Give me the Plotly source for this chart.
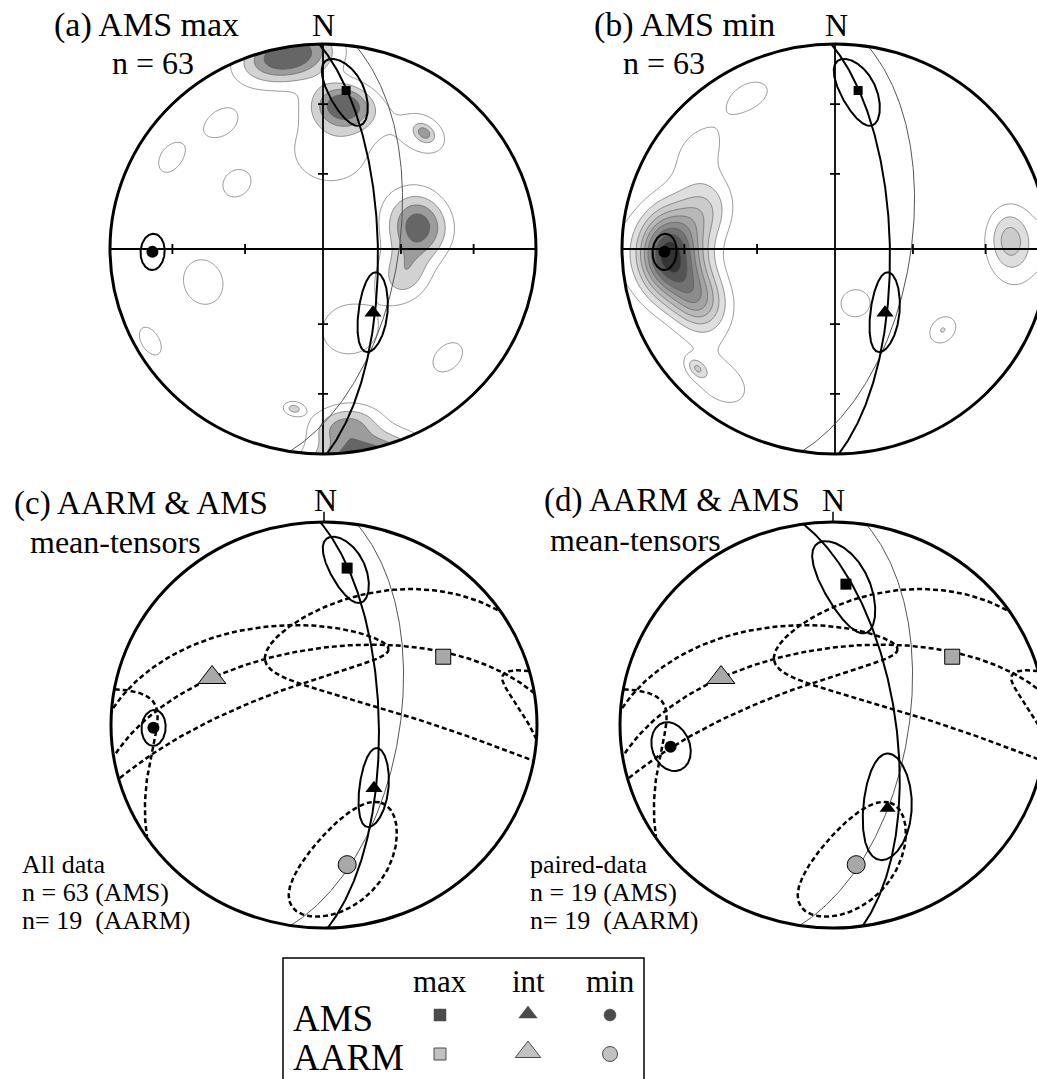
import numpy as np
import plotly.graph_objects as go

W, H = 1037, 1079
FONT = "Liberation Serif, Times New Roman, serif"

# ---------------------------------------------------------------------------
# Mean principal axes (trend, plunge in degrees), order: max, int, min
axis_labels = ["max", "int", "min"]

ams_all_trend = [8, 143, 269]
ams_all_plunge = [23, 58, 21]
# confidence semi-angles of each axis toward the two other axes (deg)
ams_all_conf = [[16, 6], [16, 5.5], [6, 5.5]]
ams_all_rot = [0, 0, 0]

ams_paired_trend = [5, 148, 262]
ams_paired_plunge = [31, 50, 24]
ams_paired_conf = [[22, 8], [22, 9], [8, 9]]
ams_paired_rot = [0, 0, 0]

aarm_trend = [59, 294, 171]
aarm_plunge = [35, 42, 31]
aarm_conf = [[67, 26], [67, 15], [28, 14]]
aarm_rot = [0, 0, 15]

# reference plane (strike, dip; right-hand rule)
ref_strike, ref_dip = 9, 61

# Density clusters of individual AMS max axes: trend, plunge, peak, spread
kmax_trend = [350, 8, 173, 76, 108, 40, 190, 322, 308, 302, 254, 241, 132, 4, 162, 40]
kmax_plunge = [5, 30, 14, 52, 57, 27, 22, 23, 47, 17, 41, 8, 22, 50, 56, 27]
kmax_peak = [5.2, 4.6, 3.2, 4.6, 2.4, 2.3, 2.3, 1.5, 1.5, 1.5, 1.5, 1.5, 1.5, 1.5, 1.35, 1.35]
kmax_spread = [9, 7, 7, 8.5, 7, 2.5, 2.5, 6.2, 5.5, 5.6, 9, 5, 6, 14, 13, 9]

# Density clusters of individual AMS min axes
kmin_trend = [268, 249, 287, 87, 90, 332, 307, 220, 228, 160, 128, 128]
kmin_plunge = [23, 32, 36, 19, 15, 16, 21, 17, 14, 67, 36, 36]
kmin_peak = [9.5, 4.5, 2.6, 2.4, 1.35, 1.35, 1.3, 1.35, 2.2, 1.35, 1.4, 0.8]
kmin_spread = [10, 8, 8, 6, 12, 7, 10, 11, 2.5, 7, 6, 1.2]

max_levels = [1, 4]
min_levels = [1, 9]
max_shades = ["#ffffff", "#ffffff", "#d2d2d2", "#9c9c9c", "#666666"]
min_shades = ["#ffffff", "#ffffff", "#dedede", "#cbcbcb", "#b8b8b8", "#a3a3a3",
              "#8c8c8c", "#727272", "#545454", "#333333"]


# ---------------------------------------------------------------------------
def unit(trend, plunge):
    t, p = np.radians(trend), np.radians(plunge)
    return np.array([np.cos(p) * np.cos(t), np.cos(p) * np.sin(t), np.sin(p)])


def to_xy(v):
    """Lower-hemisphere equal-area projection; v = (N, E, Down) x n."""
    v = np.array(v, dtype=float).reshape(3, -1)
    v = v / np.linalg.norm(v, axis=0)
    v = v * np.where(v[2] < 0, -1.0, 1.0)
    colat = np.arccos(np.clip(v[2], -1, 1))
    r = np.sqrt(2) * np.sin(colat / 2)
    h = np.hypot(v[0], v[1])
    h = np.where(h == 0, 1, h)
    return r * v[1] / h, r * v[0] / h


def great_circle(pole, n=241):
    pole = pole / np.linalg.norm(pole)
    s = np.cross(pole, [0, 0, 1.0])
    s /= np.linalg.norm(s)
    d = np.cross(pole, s)
    d /= np.linalg.norm(d)
    if d[2] < 0:
        d = -d
    t = np.linspace(0, np.pi, n)
    return to_xy(np.outer(s, np.cos(t)) + np.outer(d, np.sin(t)))


def conf_ellipse(axes, i, conf, rot, n=361):
    others = [j for j in range(3) if j != i]
    v = axes[i]
    a1, a2 = axes[others[0]], axes[others[1]]
    u1 = a1 - np.dot(a1, v) * v
    u1 /= np.linalg.norm(u1)
    u2 = np.cross(v, u1)
    if np.dot(u2, a2) < 0:
        u2 = -u2
    phi = np.radians(rot[i])
    u1, u2 = np.cos(phi) * u1 + np.sin(phi) * u2, -np.sin(phi) * u1 + np.cos(phi) * u2
    t = np.linspace(0, 2 * np.pi, n)
    e1, e2 = np.tan(np.radians(conf[i][0])), np.tan(np.radians(conf[i][1]))
    pts = v[:, None] + e1 * np.cos(t) * u1[:, None] + e2 * np.sin(t) * u2[:, None]
    pts /= np.linalg.norm(pts, axis=0)
    x, y = to_xy(pts)
    side = pts[2] >= 0
    xs, ys = [], []
    for k in range(n):
        if k > 0 and side[k] != side[k - 1]:
            xs.append(None)
            ys.append(None)
        xs.append(x[k])
        ys.append(y[k])
    return xs, ys


def density(trends, plunges, peaks, spreads, grid):
    X, Y = np.meshgrid(grid, grid)
    R = np.minimum(np.hypot(X, Y), 1.0)
    colat = 2 * np.arcsin(R / np.sqrt(2))
    tr = np.arctan2(X, Y)
    V = np.stack([np.sin(colat) * np.cos(tr), np.sin(colat) * np.sin(tr), np.cos(colat)])
    z = np.zeros_like(X)
    for t, p, w, s in zip(trends, plunges, peaks, spreads):
        c = unit(t, p)
        ang = np.degrees(np.arccos(np.clip(np.abs(np.tensordot(c, V, axes=1)), 0, 1)))
        z += w * np.exp(-0.5 * (ang / s) ** 2)
    return z


def step_scale(colors):
    n = len(colors) - 1
    return [[i / n, c] for i, c in enumerate(colors)]


# ---------------------------------------------------------------------------
PAD = 1.12
panels = [  # centre and radii of each net in page pixels
    dict(cx=323, cy=249, rx=213, ry=205),
    dict(cx=835, cy=249, rx=213, ry=205),
    dict(cx=324, cy=725, rx=213, ry=203),
    dict(cx=833, cy=725, rx=213, ry=203),
]

fig = go.Figure()
layout = dict(width=W, height=H, margin=dict(l=0, r=0, t=0, b=0),
              paper_bgcolor="white", plot_bgcolor="rgba(0,0,0,0)",
              showlegend=False, shapes=[], annotations=[])

for k, p in enumerate(panels, start=1):
    x0, x1 = p["cx"] - PAD * p["rx"], p["cx"] + PAD * p["rx"]
    hi = PAD
    if x1 > W:
        hi = (W - p["cx"]) / p["rx"]
        x1 = W
    y0, y1 = p["cy"] - PAD * p["ry"], p["cy"] + PAD * p["ry"]
    sfx = "" if k == 1 else str(k)
    layout["xaxis" + sfx] = dict(domain=[x0 / W, x1 / W], range=[-PAD, hi], visible=False,
                                 fixedrange=True, anchor="y" + sfx)
    layout["yaxis" + sfx] = dict(domain=[1 - y1 / H, 1 - y0 / H], range=[-PAD, PAD],
                                 visible=False, fixedrange=True, anchor="x" + sfx)
    p["xr"], p["yr"] = "x" + sfx, "y" + sfx

# overlay axis in page pixels for the key
layout["xaxis5"] = dict(domain=[0, 1], range=[0, W], visible=False, fixedrange=True, anchor="y5")
layout["yaxis5"] = dict(domain=[0, 1], range=[H, 0], visible=False, fixedrange=True, anchor="x5")

ams_all = [unit(t, q) for t, q in zip(ams_all_trend, ams_all_plunge)]
ams_paired = [unit(t, q) for t, q in zip(ams_paired_trend, ams_paired_plunge)]
aarm = [unit(t, q) for t, q in zip(aarm_trend, aarm_plunge)]
ref_pole = unit(ref_strike - 90, 90 - ref_dip)

grid = np.linspace(-1.03, 1.03, 241)
ring = np.linspace(0, 2 * np.pi, 361)
mask_path = ("M -2 -2 L 2 -2 L 2 2 L -2 2 Z M " +
             " L ".join(f"{np.cos(a):.5f} {np.sin(a):.5f}" for a in ring) + " Z")

AMS_SYM = ["square", "triangle-up", "circle"]
GRAY = "#a8a8a8"


def line(p, x, y, width=2, color="black", dash="solid"):
    fig.add_trace(go.Scatter(x=x, y=y, mode="lines", xaxis=p["xr"], yaxis=p["yr"],
                             line=dict(width=width, color=color, dash=dash),
                             hoverinfo="skip", connectgaps=False))


def markers(p, axes, sizes, fill, edge):
    for v, sym, s in zip(axes, AMS_SYM, sizes):
        x, y = to_xy(v)
        fig.add_trace(go.Scatter(x=x, y=y, mode="markers", xaxis=p["xr"], yaxis=p["yr"],
                                 marker=dict(symbol=sym, size=s, color=fill,
                                             line=dict(width=edge, color="black")),
                                 hoverinfo="skip"))


def stereo_axes(p):
    line(p, [-1, 1], [0, 0], width=1.8)
    line(p, [0, 0], [-1, 1], width=1.8)
    tx = float(np.sqrt(2) * np.sin(np.radians(15)))
    ty = float(np.sqrt(2) * np.sin(np.radians(30)))
    hx, hy = 5 / p["rx"], 5 / p["ry"]
    for r in (tx, ty, -tx, -ty):
        line(p, [r, r], [-hy, hy], width=1.8)
        line(p, [-hx, hx], [r, r], width=1.8)


def ams_set(p, axes, conf, rot):
    x, y = great_circle(axes[2])
    line(p, x, y, width=2)
    for i in range(3):
        ex, ey = conf_ellipse(axes, i, conf, rot)
        line(p, ex, ey, width=2)


# ---- (a) AMS max and (b) AMS min density nets -----------------------------
for p, (tr, pl, pk, sp, lev, shades) in zip(
        panels[:2],
        [(kmax_trend, kmax_plunge, kmax_peak, kmax_spread, max_levels, max_shades),
         (kmin_trend, kmin_plunge, kmin_peak, kmin_spread, min_levels, min_shades)]):
    z = density(tr, pl, pk, sp, grid)
    fig.add_trace(go.Contour(x=grid, y=grid, z=z, xaxis=p["xr"], yaxis=p["yr"],
                             autocontour=False,
                             contours=dict(start=lev[0], end=lev[1], size=1, coloring="fill"),
                             colorscale=step_scale(shades), showscale=False,
                             line=dict(width=0.6, color="#555555"), hoverinfo="skip"))
    stereo_axes(p)
    x, y = great_circle(ref_pole)
    line(p, x, y, width=1, color="#555555")
    ams_set(p, ams_all, ams_all_conf, ams_all_rot)
    markers(p, ams_all, [9, 15, 12], "black", 0)
    layout["shapes"].append(dict(type="path", path=mask_path, xref=p["xr"], yref=p["yr"],
                                 fillcolor="white", fillrule="evenodd",
                                 line=dict(width=0), layer="above"))

# ---- (c) all data and (d) paired data mean tensors --------------------------
for p, ams, conf, rot, msz in [(panels[2], ams_all, ams_all_conf, ams_all_rot, [11, 15, 12]),
                               (panels[3], ams_paired, ams_paired_conf, ams_paired_rot, [11, 14, 12])]:
    x, y = great_circle(ref_pole)
    line(p, x, y, width=1, color="#555555")
    x, y = great_circle(aarm[2])
    line(p, x, y, width=2.5, dash="5px,3px")
    for i in range(3):
        ex, ey = conf_ellipse(aarm, i, aarm_conf, aarm_rot)
        line(p, ex, ey, width=2.5, dash="5px,3px")
    ams_set(p, ams, conf, rot)
    markers(p, ams, msz, "black", 0)
    markers(p, aarm, [15, 24, 18], GRAY, 1)
    layout["shapes"].append(dict(type="line", xref=p["xr"], yref=p["yr"],
                                 x0=0, x1=0, y0=1, y1=1.05, line=dict(width=1.5, color="black")))

for p in panels:
    layout["shapes"].append(dict(type="circle", xref=p["xr"], yref=p["yr"],
                                 x0=-1, x1=1, y0=-1, y1=1,
                                 line=dict(width=3, color="black"), layer="above"))


# ---- text ---------------------------------------------------------------------
def text(s, x, y, size, anchor="left"):
    layout["annotations"].append(dict(text=s, x=x / W, y=1 - y / H, xref="paper", yref="paper",
                                      xanchor=anchor, yanchor="middle", showarrow=False,
                                      font=dict(family=FONT, size=size, color="black")))


text("(a) AMS max", 52, 25, 34)
text("n = 63", 153, 63, 32, "center")
text("N", 323, 25, 32, "center")
text("(b) AMS min", 592, 25, 34)
text("n = 63", 664, 63, 32, "center")
text("N", 836, 25, 32, "center")
text("(c) AARM &amp; AMS", 12, 503, 33)
text("mean-tensors", 28, 542, 32)
text("N", 325, 500, 32, "center")
text("(d) AARM &amp; AMS", 542, 500, 33)
text("mean-tensors", 548, 540, 32)
text("N", 833, 500, 32, "center")

text("All data", 20, 864, 26)
text("n = 63 (AMS)", 20, 892, 26)
text("n= 19\u00a0 (AARM)", 20, 920, 26)
text("paired-data", 528, 864, 26)
text("n = 19 (AMS)", 528, 892, 26)
text("n= 19\u00a0 (AARM)", 528, 920, 26)

# ---- key ----------------------------------------------------------------------
layout["shapes"].append(dict(type="rect", xref="paper", yref="paper",
                             x0=283 / W, x1=644 / W, y0=1 - 958 / H, y1=-0.02,
                             line=dict(width=1.5, color="black")))
key_cols_x = [440, 528, 610]
for lab, x in zip(axis_labels, key_cols_x):
    text(lab, x, 981, 31, "center")
text("AMS", 291, 1018, 37)
text("AARM", 291, 1057, 37)
fig.add_trace(go.Scatter(x=key_cols_x, y=[1015, 1014, 1015], mode="markers", xaxis="x5", yaxis="y5",
                         marker=dict(symbol=AMS_SYM, size=[12, 16, 12], color="black",
                                     line=dict(width=0.5, color="black")),
                         hoverinfo="skip"))
fig.add_trace(go.Scatter(x=key_cols_x, y=[1054, 1052, 1054], mode="markers", xaxis="x5", yaxis="y5",
                         marker=dict(symbol=AMS_SYM, size=[12, 22, 15], color=GRAY,
                                     line=dict(width=1, color="black")),
                         hoverinfo="skip"))

fig.update_layout(**layout)
fig.write_html("out.html")
